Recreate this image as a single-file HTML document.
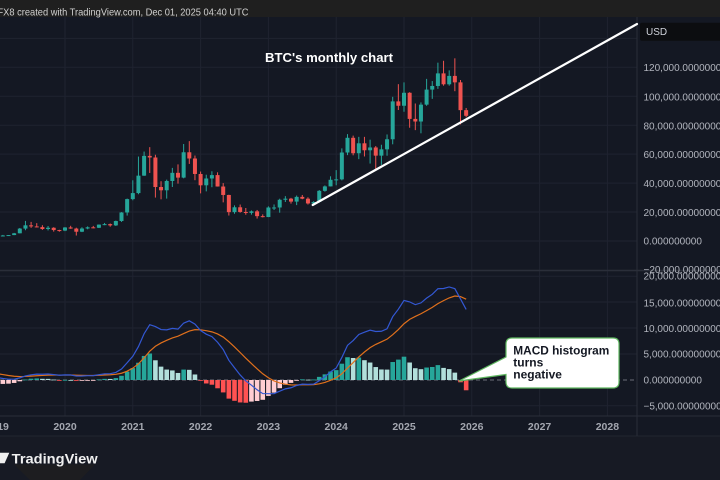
<!DOCTYPE html>
<html><head><meta charset="utf-8">
<style>
html,body{margin:0;padding:0;background:#141823;}
svg{display:block;}
text{font-family:"Liberation Sans",sans-serif;}
</style></head>
<body>
<svg id="s" width="720" height="480" viewBox="0 0 720 480" xmlns="http://www.w3.org/2000/svg">
<defs>
<clipPath id="cp"><rect x="0" y="17" width="637" height="253"/></clipPath>
<clipPath id="cm"><rect x="0" y="271" width="637" height="145"/></clipPath>
</defs>
<rect x="0" y="0" width="720" height="480" fill="#141823"/>
<rect x="0" y="436" width="720" height="44" fill="#171a24"/>
<g id="grid" stroke="#1f2330" stroke-width="1"></g>
<line x1="0" y1="270.5" x2="720" y2="270.5" stroke="#2a2e39" stroke-width="1.5"/>
<line x1="0" y1="416" x2="720" y2="416" stroke="#2a2e39"/>
<line x1="0" y1="436" x2="720" y2="436" stroke="#22262f"/>
<line x1="637" y1="17" x2="637" y2="436" stroke="#2a2e39"/>
<line x1="0" y1="380" x2="637" y2="380" stroke="#6b6e78" stroke-dasharray="4 3" stroke-width="1"/>
<g id="hist" clip-path="url(#cm)"></g>
<g id="lines" clip-path="url(#cm)"></g>
<g id="candles" clip-path="url(#cp)"></g>
<line x1="312.7" y1="205" x2="637" y2="24" stroke="#ffffff" stroke-width="2.2" stroke-linecap="round"/>
<text x="265" y="62" font-size="13" font-weight="bold" fill="#ffffff" textLength="128" lengthAdjust="spacingAndGlyphs">BTC's monthly chart</text>

<!-- top bar -->
<rect x="0" y="0" width="720" height="17" fill="#1f1f1f"/>
<text x="-2.5" y="15.3" font-size="10.3" fill="#d0d0d0" textLength="251" lengthAdjust="spacingAndGlyphs">FX8 created with TradingView.com, Dec 01, 2025 04:40 UTC</text>

<!-- USD box -->
<rect x="640" y="22.7" width="84" height="18" rx="2" fill="#0c0d10"/>
<text x="646" y="35.2" font-size="10" fill="#d1d4dc">USD</text>

<g font-size="10" fill="#b2b5be">
<text x="643.5" y="70.9">120,000.000000000</text>
<text x="643.5" y="100.3">100,000.000000000</text>
<text x="643.5" y="129.3">80,000.000000000</text>
<text x="643.5" y="157.9">60,000.000000000</text>
<text x="643.5" y="186.9">40,000.000000000</text>
<text x="643.5" y="215.9">20,000.000000000</text>
<text x="643.5" y="244.6">0.000000000</text>
<text x="643.5" y="272.9">−20,000.000000000</text>
<text x="643.5" y="279.6">20,000.000000000</text>
<text x="643.5" y="306.3">15,000.000000000</text>
<text x="643.5" y="331.9">10,000.000000000</text>
<text x="643.5" y="357.6">5,000.000000000</text>
<text x="643.5" y="383.6">0.000000000</text>
<text x="643.5" y="409.3">−5,000.000000000</text>
</g>

<g font-size="10.5" font-weight="bold" fill="#a3a6af" text-anchor="middle">
<text x="-2.8" y="429.8">2019</text>
<text x="65" y="429.8">2020</text>
<text x="132.8" y="429.8">2021</text>
<text x="200.6" y="429.8">2022</text>
<text x="268.4" y="429.8">2023</text>
<text x="336.2" y="429.8">2024</text>
<text x="404" y="429.8">2025</text>
<text x="471.8" y="429.8">2026</text>
<text x="539.6" y="429.8">2027</text>
<text x="607.4" y="429.8">2028</text>
</g>

<!-- annotation -->
<path d="M512,338 H613 Q619,338 619,344 V382 Q619,388 613,388 H512 Q506,388 506,382 V374.5 L459,381 L506,357 V344 Q506,338 512,338 Z" fill="#ffffff" stroke="#5fb760" stroke-width="1.2"/>
<g font-size="12" font-weight="bold" fill="#131722">
<text x="513.3" y="354.5" textLength="96" lengthAdjust="spacingAndGlyphs">MACD histogram</text>
<text x="513.3" y="366.7">turns</text>
<text x="513.3" y="378.6">negative</text>
</g>

<!-- logo -->
<path d="M14,464.5 L95,464.5 L80,480 L30,480 Z" fill="#1d1d20"/>
<path d="M0,452.7 L9.3,452.7 L4.6,463.3 L0,463.3 Z" fill="#f0f0f0"/>
<text x="11.7" y="463.3" font-size="14" font-weight="bold" fill="#f0f0f0" textLength="86" lengthAdjust="spacingAndGlyphs">TradingView</text>
</svg>
<script>
(function(){
var NS="http://www.w3.org/2000/svg";
function el(parent,tag,attrs){var e=document.createElementNS(NS,tag);for(var k in attrs)e.setAttribute(k,attrs[k]);parent.appendChild(e);return e;}
var grid=document.getElementById('grid');
var yrs=[-2.8,65,132.8,200.6,268.4,336.2,404,471.8,539.6,607.4];
yrs.forEach(function(x){el(grid,'line',{x1:x,y1:17,x2:x,y2:416});});
[38.35,67.3,96.25,125.2,154.15,183.1,212.05,241].forEach(function(y){el(grid,'line',{x1:0,y1:y,x2:637,y2:y});});
[276.2,302,328,354,405.7].forEach(function(y){el(grid,'line',{x1:0,y1:y,x2:637,y2:y});});

var pre=[217,254,244,236,230,263,284,230,236,314,377,430,368,437,416,448,531,673,624,575,609,698,742,963,970,1190,1080,1350,2300,2480,2875,4700,4340,6470,10000,13900,10220,10300,6930,9240,7490,6390,7730,7030,6630,6370,4040,3740];
var d=[
[3690,4110,3400,3440],[3440,4200,3400,3820],[3820,4100,3690,4100],[4100,5600,4050,5320],[5320,9000,5300,8570],[8570,13880,7450,10820],[10820,13200,9070,10080],[10080,12330,9320,9600],[9600,10900,7700,8290],[8290,10370,7300,9150],[9150,9510,6500,7560],[7560,7750,6430,7190],
[7190,9600,6850,9350],[9350,10500,8450,8600],[8600,9190,3780,6410],[6410,9470,6150,8630],[8630,10080,8100,9450],[9450,10430,8830,9140],[9140,11450,8950,11330],[11330,12480,10950,11650],[11650,12080,9880,10780],[10780,14100,10380,13800],[13800,19950,13200,19700],[19700,29300,17570,28950],
[28950,41950,28130,33110],[33110,58350,32300,45140],[45140,61790,45000,58800],[58800,64850,47000,57700],[57700,59590,30000,37300],[37300,41330,28800,35040],[35040,42400,29280,41460],[41460,50500,37330,47100],[47100,52920,39600,43790],[43790,67000,43300,61300],[61300,69000,53250,57000],[57000,59040,42000,46300],
[46300,47990,32900,38480],[38480,45800,34300,43190],[43190,48190,37150,45530],[45530,47450,37600,37640],[37640,40000,26700,31800],[31800,31960,17600,19940],[19940,24650,18800,23300],[23300,25200,19550,20050],[20050,22800,18150,19430],[19430,21100,18200,20500],[20500,21450,15500,17170],[17170,18400,16300,16550],
[16550,23950,16500,23140],[23140,25250,21400,23150],[23150,29200,19550,28480],[28480,31000,26950,29250],[29250,29800,25800,27220],[27220,31400,24800,30480],[30480,31800,28850,29230],[29230,30200,25200,25940],[25940,27500,24900,26970],[26970,35200,26550,34660],[34660,38400,34100,37720],[37720,44700,37650,42280],
[42280,48970,38500,42580],[42580,64000,41900,61130],[61130,73800,59300,71290],[71290,72800,59200,60640],[60640,71950,56550,67490],[67490,71950,58400,62680],[62680,70000,53500,64620],[64620,65600,49000,58970],[58970,66500,52550,63330],[63330,73600,58900,70290],[70290,99600,66800,96450],[96450,108350,90500,93430],
[93430,109600,89260,102400],[102400,102800,78250,84350],[84350,95000,76600,82550],[82550,95750,74400,94200],[94200,112000,93400,104600],[104600,110500,98200,107100],[107100,123200,105100,115800],[115800,124500,107300,108250],[108250,117900,107300,114050],[114050,126200,103500,109600],[109600,111200,80600,90400],[90400,91900,85500,86500]
];
function X(i){return -2.8+i*5.65;}
function PY(p){return 241-p*0.0014475;}
function MY(v){return 380-v*0.00514;}
var cg=document.getElementById('candles');
d.forEach(function(r,i){
  var o=r[0],h=r[1],l=r[2],c=r[3],x=X(i);
  var col=c>=o?'#26a69a':'#ef5350';
  el(cg,'line',{x1:x,y1:PY(h),x2:x,y2:PY(l),stroke:col,'stroke-width':1});
  var t=PY(Math.max(o,c)),b=PY(Math.min(o,c));
  el(cg,'rect',{x:x-2,y:t,width:4,height:Math.max(1,b-t),fill:col});
});
var closes=pre.concat(d.map(function(r){return r[3];}));
function ema(a,n){var k=2/(n+1),out=[],e=a[0];for(var i=0;i<a.length;i++){e=i==0?a[0]:a[i]*k+e*(1-k);out.push(e);}return out;}
var e12=ema(closes,12),e26=ema(closes,26);
var macd=closes.map(function(c,i){return e12[i]-e26[i];});
var sig=ema(macd,9);
var off=pre.length;
var hg=document.getElementById('hist');
var mp='',sp='';
for(var i=-2;i<d.length;i++){
  var j=off+i,x=X(i);
  var hv=macd[j]-sig[j],hp=macd[j-1]-sig[j-1];
  var col;
  if(hv>=0){col=hp<hv?'#26a69a':'#b2dfdb';}else{col=hp<hv?'#ffcdd2':'#ff5252';}
  var y0=MY(0),y1=MY(hv);
  el(hg,'rect',{x:x-2.3,y:Math.min(y0,y1),width:4.6,height:Math.max(0.8,Math.abs(y1-y0)),fill:col});
  mp+=(i==-2?'M':'L')+x.toFixed(2)+','+MY(macd[j]).toFixed(2);
  sp+=(i==-2?'M':'L')+x.toFixed(2)+','+MY(sig[j]).toFixed(2);
}
var lg=document.getElementById('lines');
el(lg,'path',{d:sp,fill:'none',stroke:'#e0701c','stroke-width':1.2});
el(lg,'path',{d:mp,fill:'none',stroke:'#3358d4','stroke-width':1.2});
})();
</script>
</body></html>
